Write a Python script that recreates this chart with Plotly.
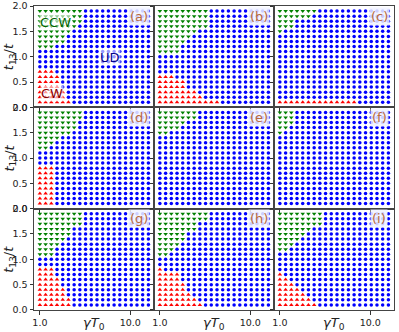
import plotly.graph_objects as go
from plotly.subplots import make_subplots

# grid of the phase diagram
gamma_T0 = [1.0, 1.157, 1.338, 1.547, 1.789, 2.069, 2.393, 2.767, 3.2, 3.701,
            4.281, 4.951, 5.725, 6.622, 7.658, 8.857, 10.25, 11.85, 13.7, 15.85]
t13 = [0.1, 0.2, 0.3, 0.4, 0.5, 0.6, 0.7, 0.8, 0.9, 1.0,
       1.1, 1.2, 1.3, 1.4, 1.5, 1.6, 1.7, 1.8, 1.9]

panel_labels = ["(a)", "(b)", "(c)", "(d)", "(e)", "(f)", "(g)", "(h)", "(i)"]

# number of CW points (from the left) in each row, bottom row first
cw_a = [6, 5, 5, 4, 4, 4, 3]
cw_b = [11, 8, 7, 5, 5, 3]
cw_c = [14]
cw_d = [3, 3, 3, 3, 3, 3, 3, 3]
cw_e = []
cw_f = []
cw_g = [6, 6, 5, 5, 4, 4, 3, 3]
cw_h = [8, 7, 6, 5, 5, 4, 4, 1]
cw_i = [7, 6, 5, 4, 3, 2, 1]

# number of CCW points (from the left) in each row, top row first
ccw_a = [8, 8, 8, 7, 6, 5, 5, 3]
ccw_b = [9, 9, 9, 9, 7, 6, 5, 4, 4]
ccw_c = [7, 6, 3, 3, 1]
ccw_d = [8, 8, 7, 7, 6, 4, 3, 2]
ccw_e = [7, 7, 5, 4, 2]
ccw_f = [3, 3, 3, 2, 1]
ccw_g = [8, 8, 8, 6, 6, 5, 4, 3, 3]
ccw_h = [9, 9, 7, 7, 5, 5, 4, 3, 2]
ccw_i = [8, 8, 8, 6, 5, 4, 3, 2]

cw_all = [cw_a, cw_b, cw_c, cw_d, cw_e, cw_f, cw_g, cw_h, cw_i]
ccw_all = [ccw_a, ccw_b, ccw_c, ccw_d, ccw_e, ccw_f, ccw_g, ccw_h, ccw_i]

estilo = {
    "UD": dict(symbol="circle", color="#0000ff", size=3.5),
    "CW": dict(symbol="triangle-up", color="#ff0000", size=4.0),
    "CCW": dict(symbol="triangle-down", color="#008000", size=4.0),
}

fig = make_subplots(rows=3, cols=3, horizontal_spacing=0, vertical_spacing=0)

for p in range(9):
    r, c = p // 3 + 1, p % 3 + 1
    cw, ccw = cw_all[p], ccw_all[p]
    pts = {"UD": ([], []), "CW": ([], []), "CCW": ([], [])}
    for j, y in enumerate(t13):
        topo = len(t13) - 1 - j
        for k, x in enumerate(gamma_T0):
            if j < len(cw) and k < cw[j]:
                fase = "CW"
            elif topo < len(ccw) and k < ccw[topo]:
                fase = "CCW"
            else:
                fase = "UD"
            pts[fase][0].append(x)
            pts[fase][1].append(y)
    for fase in ["UD", "CCW", "CW"]:
        s = estilo[fase]
        fig.add_trace(go.Scatter(x=pts[fase][0], y=pts[fase][1], mode="markers",
                                 marker=dict(symbol=s["symbol"], color=s["color"], size=s["size"],
                                             line=dict(width=0)),
                                 showlegend=False, hoverinfo="skip"), row=r, col=c)

    fig.update_xaxes(type="log", range=[-0.065, 1.262], tickvals=[1, 10], ticktext=["1.0", "10.0"],
                     ticks="outside", ticklen=3.5, tickcolor="#333", showline=True, mirror=True,
                     linecolor="#444", linewidth=1, showgrid=False, zeroline=False, automargin=False,
                     showticklabels=(r == 3), row=r, col=c)
    fig.update_yaxes(range=[0, 2], tickvals=[0, 0.5, 1, 1.5, 2],
                     ticktext=["0.0", "0.5", "1.0", "1.5", "2.0"],
                     ticks="outside", ticklen=3.5, tickcolor="#333", showline=True, mirror=True,
                     linecolor="#444", linewidth=1, showgrid=False, zeroline=False, automargin=False,
                     showticklabels=(c == 1), row=r, col=c)

    sufixo = "" if p == 0 else str(p + 1)
    fig.add_annotation(text=panel_labels[p], xref="x" + sufixo + " domain", yref="y" + sufixo + " domain",
                       x=0.875, y=0.9, xanchor="center", yanchor="middle", showarrow=False,
                       font=dict(size=13, color="#b8683c"),
                       bgcolor="rgba(240,242,255,0.85)", borderpad=1)

    if c == 1:
        fig.add_annotation(text="<i>t</i><sub>13</sub>/<i>t</i>", xref="paper", yref="y" + sufixo + " domain",
                           x=-0.068, y=0.5, xanchor="center", yanchor="middle", textangle=-90,
                           showarrow=False, font=dict(size=13, color="#222"))
    if r == 3:
        fig.add_annotation(text="<i>γT</i><sub>0</sub>", xref="x" + sufixo + " domain", yref="paper",
                           x=0.5, y=-0.045, xanchor="center", yanchor="middle", showarrow=False,
                           font=dict(size=13, color="#222"))

# rótulos das fases no painel (a)
for texto, cor, px, py in [("CCW", "darkgreen", 0.18, 0.84), ("UD", "darkblue", 0.63, 0.49),
                           ("CW", "darkred", 0.15, 0.14)]:
    fig.add_annotation(text=texto, xref="x domain", yref="y domain", x=px, y=py,
                       xanchor="center", yanchor="middle", showarrow=False,
                       font=dict(size=13, color=cor), bgcolor="rgba(255,255,255,0.6)", borderpad=0)

fig.update_layout(width=399, height=332, margin=dict(l=34, r=5, t=6, b=22, autoexpand=False),
                  plot_bgcolor="white", paper_bgcolor="white",
                  font=dict(family="DejaVu Sans", size=9.5, color="#222"))

# tira a margem padrão do body para o gráfico ocupar a janela toda
fig.write_html("out.html", config={"displayModeBar": False},
               post_script="document.body.style.margin='0';")
